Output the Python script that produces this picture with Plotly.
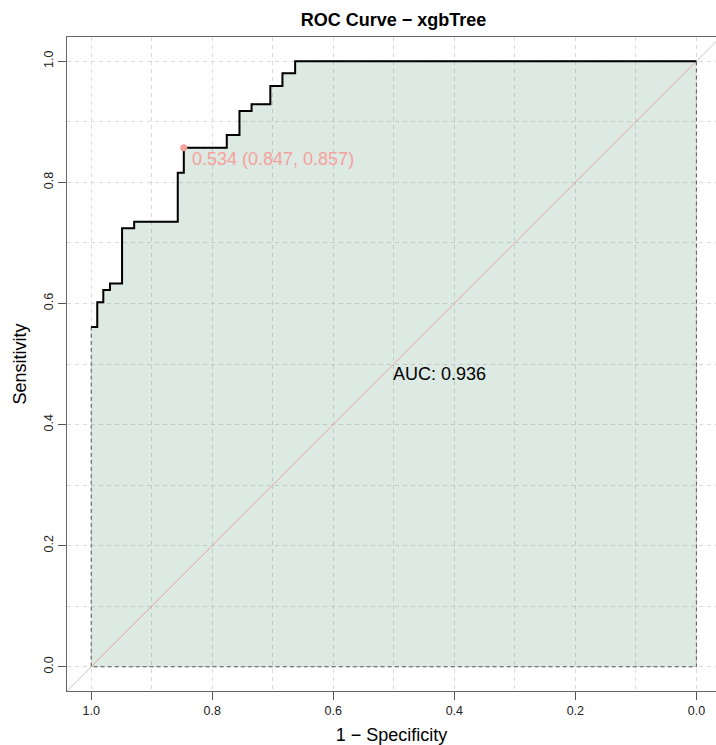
import plotly.graph_objects as go

# ROC step points (specificity, sensitivity)
spec = [1.0, 0.990, 0.980, 0.969, 0.949, 0.929, 0.857, 0.847, 0.776, 0.755,
        0.735, 0.704, 0.684, 0.663, 0.0]
sens = [0.561, 0.602, 0.622, 0.633, 0.724, 0.735, 0.816, 0.857, 0.878, 0.918,
        0.929, 0.959, 0.980, 1.0, 1.0]

best_thr = 0.534
best_spec = 0.847
best_sens = 0.857
auc = 0.936

x_ticks = [1.0, 0.8, 0.6, 0.4, 0.2, 0.0]
y_ticks = [0.0, 0.2, 0.4, 0.6, 0.8, 1.0]

FONT = "Liberation Sans, Arial, sans-serif"
PINK = "#F5A19C"

fig = go.Figure()

# diagonal reference (outside parts grey)
fig.add_trace(go.Scatter(x=[1.2, 1.0], y=[-0.2, 0.0], mode="lines",
                         line=dict(color="#C8C8C8", width=1), hoverinfo="skip"))
fig.add_trace(go.Scatter(x=[0.0, -0.2], y=[1.0, 1.2], mode="lines",
                         line=dict(color="#C8C8C8", width=1), hoverinfo="skip"))

# AUC polygon
fig.add_trace(go.Scatter(
    x=[1.0] + spec + [0.0, 1.0], y=[0.0] + sens + [0.0, 0.0],
    mode="lines", line_shape="hv", fill="toself",
    fillcolor="rgba(46,120,80,0.16)",
    line=dict(color="#555555", width=1, dash="4px,3px"), hoverinfo="skip"))

# diagonal inside polygon
fig.add_trace(go.Scatter(x=[1.0, 0.0], y=[0.0, 1.0], mode="lines",
                         line=dict(color="#E3A7A1", width=1), hoverinfo="skip"))

# ROC curve
fig.add_trace(go.Scatter(x=spec, y=sens, mode="lines", line_shape="hv",
                         line=dict(color="black", width=2)))

# best threshold point
fig.add_trace(go.Scatter(x=[best_spec], y=[best_sens], mode="markers",
                         marker=dict(color=PINK, size=7)))

fig.add_annotation(x=best_spec, y=best_sens, xref="x", yref="y",
                   text=f"{best_thr:.3f} ({best_spec:.3f}, {best_sens:.3f})",
                   showarrow=False, xanchor="left", yanchor="middle",
                   xshift=6, yshift=-11,
                   font=dict(family=FONT, size=18, color=PINK))
fig.add_annotation(x=0.5, y=0.5, xref="x", yref="y",
                   text=f"AUC: {auc:.3f}", showarrow=False,
                   xanchor="left", yanchor="top", xshift=-3, yshift=2,
                   font=dict(family=FONT, size=18, color="black"))

grid = dict(showgrid=True, gridcolor="#DADADA", griddash="4px,4px", gridwidth=1)

fig.update_layout(
    width=716, height=745,
    margin=dict(l=67, r=0, t=37, b=54),
    plot_bgcolor="white", paper_bgcolor="white",
    showlegend=False,
    font=dict(family=FONT, color="#222222"),
    title=dict(text="<b>ROC Curve − xgbTree</b>", x=393.5 / 716, xref="container",
               xanchor="center", y=1 - 20 / 745, yref="container", yanchor="middle",
               font=dict(family=FONT, size=18, color="black")),
    xaxis=dict(range=[1.04, -0.0324], tickvals=x_ticks,
               ticktext=[f"{v:.1f}" for v in x_ticks],
               ticks="outside", ticklen=8, tickcolor="#555555",
               tickfont=dict(size=12.5, color="#222222"),
               showline=True, linecolor="#666666", linewidth=1, mirror=True,
               zeroline=False,
               minor=dict(dtick=0.1, tick0=0, showgrid=True, gridcolor="#DADADA",
                          griddash="4px,4px", gridwidth=1),
               title=dict(text="1 − Specificity", standoff=11,
                          font=dict(family=FONT, size=18, color="black")),
               **grid),
    yaxis=dict(range=[-0.04, 1.04], tickvals=y_ticks,
               ticktext=[f"{v:.1f}" for v in y_ticks],
               ticks="outside", ticklen=8, tickcolor="#555555", tickangle=-90,
               tickfont=dict(size=12.5, color="#222222"),
               showline=True, linecolor="#666666", linewidth=1, mirror=False,
               zeroline=False,
               minor=dict(dtick=0.1, tick0=0, showgrid=True, gridcolor="#DADADA",
                          griddash="4px,4px", gridwidth=1),
               title=dict(text="Sensitivity", standoff=10,
                          font=dict(family=FONT, size=18, color="black")),
               **grid),
)

fig.write_html("out.html")
